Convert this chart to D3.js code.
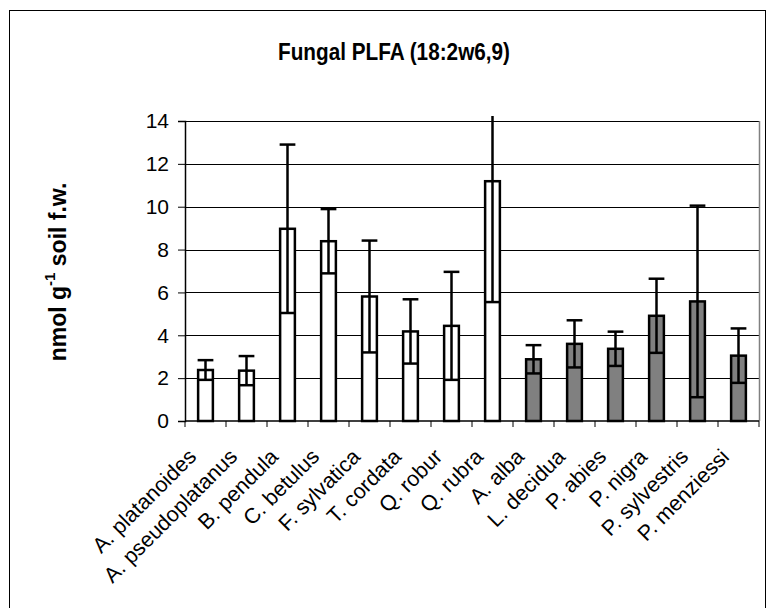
<!DOCTYPE html>
<html>
<head>
<meta charset="utf-8">
<script src="https://cdn.jsdelivr.net/npm/d3@7"></script>
<style>
  html, body { margin: 0; padding: 0; background: #fff; }
  svg { display: block; font-family: "Liberation Sans", Arial, sans-serif; }
</style>
</head>
<body>
<svg id="chart" width="768" height="608"></svg>
<script>
// Tree species (deciduous first, then conifers)
const species = [
  "A. platanoides", "A. pseudoplatanus", "B. pendula", "C. betulus",
  "F. sylvatica", "T. cordata", "Q. robur", "Q. rubra",
  "A. alba", "L. decidua", "P. abies", "P. nigra", "P. sylvestris", "P. menziessi"
];
// Mean fungal PLFA, nmol per g soil fresh weight
const meanValues = [2.38, 2.35, 8.97, 8.39, 5.81, 4.18, 4.44, 11.19, 2.88, 3.60, 3.37, 4.91, 5.58, 3.05];
// Error (± deviation)
const errorValues = [0.46, 0.68, 3.93, 1.50, 2.61, 1.50, 2.52, 5.64, 0.66, 1.10, 0.80, 1.73, 4.47, 1.27];
// Group of each species
const groups = ["broadleaf", "broadleaf", "broadleaf", "broadleaf", "broadleaf", "broadleaf", "broadleaf", "broadleaf",
                "conifer", "conifer", "conifer", "conifer", "conifer", "conifer"];
const yTicks = [0, 2, 4, 6, 8, 10, 12, 14];

const data = species.map((s, i) => ({ name: s, mean: meanValues[i], err: errorValues[i], group: groups[i] }));

const svg = d3.select("#chart");
const plot = { left: 185, right: 759, top: 121, bottom: 421 };

// Outer chart frame
svg.append("rect")
  .attr("x", 9.5).attr("y", 10.5)
  .attr("width", 756).attr("height", 640)
  .attr("fill", "#fff").attr("stroke", "#000").attr("stroke-width", 1);

const x = d3.scaleBand().domain(species).range([plot.left, plot.right]).paddingInner(0).paddingOuter(0);
const y = d3.scaleLinear().domain([0, 14]).range([plot.bottom, plot.top]);

// Gridlines
svg.append("g")
  .selectAll("line")
  .data(yTicks.filter(t => t > 0))
  .join("line")
  .attr("x1", plot.left).attr("x2", plot.right)
  .attr("y1", d => Math.round(y(d)) + 0.5).attr("y2", d => Math.round(y(d)) + 0.5)
  .attr("stroke", "#000").attr("stroke-width", 1);

// Right border of plot area
svg.append("line")
  .attr("x1", plot.right + 0.5).attr("x2", plot.right + 0.5)
  .attr("y1", y(14)).attr("y2", y(0))
  .attr("stroke", "#808080").attr("stroke-width", 1.5);

const fillFor = { broadleaf: "#ffffff", conifer: "#808080" };
const barW = x.bandwidth() * 0.36;

// Bars
svg.append("g")
  .selectAll("rect")
  .data(data)
  .join("rect")
  .attr("x", d => x(d.name) + (x.bandwidth() - barW) / 2)
  .attr("y", d => y(d.mean))
  .attr("width", barW)
  .attr("height", d => y(0) - y(d.mean))
  .attr("fill", d => fillFor[d.group])
  .attr("stroke", "#000")
  .attr("stroke-width", 2.5);

// Error bars, clipped just above the plot top
svg.append("clipPath").attr("id", "clip")
  .append("rect")
  .attr("x", plot.left).attr("y", plot.top - 5)
  .attr("width", plot.right - plot.left).attr("height", plot.bottom - plot.top + 5);

const err = svg.append("g").attr("clip-path", "url(#clip)")
  .selectAll("g")
  .data(data)
  .join("g")
  .attr("stroke", "#000").attr("stroke-width", 2.5);

const capHalf = barW / 2 + 0.5;
err.append("line")
  .attr("x1", d => x(d.name) + x.bandwidth() / 2).attr("x2", d => x(d.name) + x.bandwidth() / 2)
  .attr("y1", d => y(d.mean + d.err)).attr("y2", d => y(d.mean - d.err));
err.append("line")
  .attr("x1", d => x(d.name) + x.bandwidth() / 2 - capHalf).attr("x2", d => x(d.name) + x.bandwidth() / 2 + capHalf)
  .attr("y1", d => y(d.mean + d.err)).attr("y2", d => y(d.mean + d.err));
err.append("line")
  .attr("x1", d => x(d.name) + x.bandwidth() / 2 - capHalf).attr("x2", d => x(d.name) + x.bandwidth() / 2 + capHalf)
  .attr("y1", d => y(d.mean - d.err)).attr("y2", d => y(d.mean - d.err));

// Y axis
const yAxis = svg.append("g")
  .attr("transform", `translate(${plot.left},0)`)
  .call(d3.axisLeft(y).tickValues(yTicks).tickSize(7).tickPadding(9).tickFormat(d3.format("d")));
yAxis.select(".domain").attr("stroke", "#000").attr("stroke-width", 1.5);
yAxis.selectAll(".tick line").attr("stroke", "#000");
yAxis.selectAll(".tick text").attr("font-size", 21).attr("fill", "#000")
  .attr("font-family", "Liberation Sans, Arial, sans-serif");

// X axis with ticks at category boundaries
const xAxisG = svg.append("g").attr("transform", `translate(0,${plot.bottom})`);
xAxisG.append("line")
  .attr("x1", plot.left).attr("x2", plot.right)
  .attr("stroke", "#000").attr("stroke-width", 1.5);
xAxisG.selectAll("line.tick")
  .data(species.concat(["__end"]))
  .join("line")
  .attr("class", "tick")
  .attr("x1", (d, i) => i < species.length ? x(d) : plot.right)
  .attr("x2", (d, i) => i < species.length ? x(d) : plot.right)
  .attr("y1", 0).attr("y2", 6)
  .attr("stroke", "#000").attr("stroke-width", 1);

xAxisG.selectAll("text")
  .data(species)
  .join("text")
  .attr("transform", d => `translate(${x(d) + x.bandwidth() / 2 - 8},37) rotate(-45)`)
  .attr("text-anchor", "end")
  .attr("font-size", 21.5)
  .attr("fill", "#000")
  .text(d => d);

// Title
svg.append("text")
  .attr("x", 394).attr("y", 60)
  .attr("text-anchor", "middle")
  .attr("font-size", 23).attr("font-weight", "bold")
  .attr("textLength", 232).attr("lengthAdjust", "spacingAndGlyphs")
  .text("Fungal PLFA (18:2w6,9)");

// Y axis title with superscript
const yt = svg.append("text")
  .attr("transform", "translate(66,272) rotate(-90)")
  .attr("text-anchor", "middle")
  .attr("font-size", 23).attr("font-weight", "bold");
yt.append("tspan").text("nmol g");
yt.append("tspan").attr("font-size", 15).attr("dy", -11).text("-1");
yt.append("tspan").attr("dy", 11).text(" soil f.w.");
</script>
</body>
</html>
